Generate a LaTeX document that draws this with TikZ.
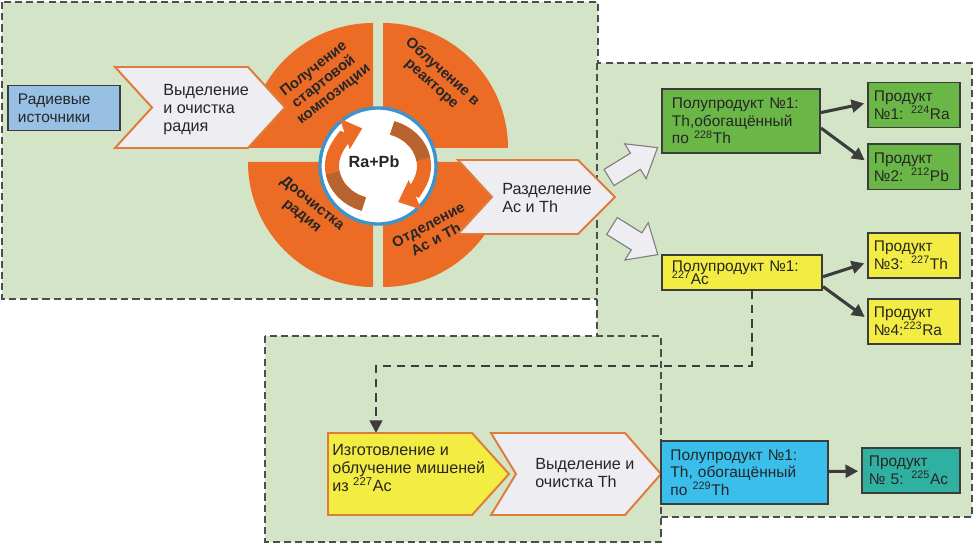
\documentclass[tikz,border=0pt]{standalone}
\usepackage{fontspec}
\setmainfont{Liberation Sans}
\usetikzlibrary{arrows.meta,positioning}
\definecolor{zoneGreen}{RGB}{212,229,199}
\definecolor{frameGray}{RGB}{77,77,77}
\definecolor{segOrange}{RGB}{236,108,38}
\definecolor{segBrown}{RGB}{184,100,48}
\definecolor{chevEdge}{RGB}{222,124,60}
\definecolor{chevFill}{RGB}{237,237,242}
\definecolor{srcBlue}{RGB}{152,192,228}
\definecolor{prodGreen}{RGB}{106,182,70}
\definecolor{prodYellow}{RGB}{243,236,66}
\definecolor{prodCyan}{RGB}{58,190,235}
\definecolor{prodTeal}{RGB}{48,176,160}
\definecolor{ringBlue}{RGB}{60,148,205}
\definecolor{inkGray}{RGB}{38,38,38}
\definecolor{boxEdge}{RGB}{60,60,60}
\tikzset{
  zone/.style={fill=zoneGreen, draw=frameGray, line width=1.6pt,
               dash pattern=on 5pt off 3pt},
  chev/.style={fill=#1, draw=chevEdge, line width=1.4pt, line join=miter},
  seg/.style={fill=segOrange},
  segtext/.style={font=\fontsize{10.5}{11.5}\selectfont\bfseries, text=inkGray,
                  align=center, inner sep=0pt},
  chevtext/.style={font=\fontsize{11.5}{12.8}\selectfont, text=inkGray,
                   align=left, anchor=west, inner sep=0pt},
  prod/.style={rectangle, draw=boxEdge, fill=#1, line width=1.4pt,
               align=left, inner sep=0pt, text=inkGray,
               font=\fontsize{11}{12.5}\selectfont},
  link/.style={-{Triangle[length=9pt,width=9pt]}, draw=boxEdge,
               line width=2.2pt, shorten >=2pt},
  blockarr/.style={fill=chevFill, draw=gray, line width=0.8pt},
  cyc/.style={line width=10pt, draw=#1},
  flow/.style={draw=boxEdge, line width=1.8pt, dash pattern=on 6pt off 4pt,
               -{Triangle[length=9pt,width=9pt]}},
}
\begin{document}
\begin{tikzpicture}[x=0.025cm, y=-0.025cm]
  \useasboundingbox (0,0) rectangle (976,545);

  % zones
  \path[zone] (2,2) rectangle (598,299);
  \path[zone] (597,63) rectangle (972,517);
  \path[zone] (265,336) rectangle (661,542);

  % cycle of four segments
  \fill[seg] (373,148) -- ++(-125,0) arc[start angle=180, end angle=270, radius=125] -- cycle;
  \fill[seg] (383,148) -- ++(125,0) arc[start angle=0, end angle=-90, radius=125] -- cycle;
  \fill[seg] (373,162) -- ++(0,125) arc[start angle=90, end angle=180, radius=125] -- cycle;
  \fill[seg] (383,162) -- ++(125,0) arc[start angle=0, end angle=90, radius=125] -- cycle;

  \coordinate (hub) at (378,166);
  \node[circle, draw=ringBlue, fill=white, line width=2.4pt,
        minimum size=2.9cm, inner sep=0pt] (ring) at (hub) {};
  \draw[cyc=segOrange, -{Triangle[width=22pt,length=13pt]}]
        ([shift={(-252:46 and 40)}]hub) arc[start angle=-252, end angle=-110, x radius=46, y radius=40];
  \draw[cyc=segBrown] ([shift={(-252:46 and 40)}]hub) arc[start angle=-252, end angle=-190, x radius=46, y radius=40];
  \draw[cyc=segOrange, -{Triangle[width=22pt,length=13pt]}]
        ([shift={(-72:46 and 40)}]hub) arc[start angle=-72, end angle=64, x radius=46, y radius=40];
  \draw[cyc=segBrown] ([shift={(-72:46 and 40)}]hub) arc[start angle=-72, end angle=-10, x radius=46, y radius=40];
  \node[font=\fontsize{11.5}{12}\selectfont\bfseries, text=inkGray] (mix) at (374,162) {Ra+Pb};

  \node[segtext, rotate=38] (start) at (324,82) {Получение\\стартовой\\композиции};
  \node[segtext, rotate=-42] (irrad) at (437,78) {Облучение в\\реакторе};
  \node[segtext, rotate=-39] (purify) at (307,210) {Доочистка\\радия};
  \node[segtext, rotate=28] (sepAcTh) at (432,232) {Отделение\\Ac и Th};

  % chevrons
  \path[chev=chevFill] (115,67) -- (248,67) -- (285,107.5) -- (248,148) -- (115,148) -- (152,107.5) -- cycle;
  \path[chev=chevFill] (458,160) -- (578,160) -- (615,197) -- (578,234) -- (458,234) -- (492,197) -- cycle;
  \path[chev=prodYellow] (328,433) -- (472,433) -- (509,474) -- (472,515) -- (328,515) -- cycle;
  \path[chev=chevFill] (491,433) -- (625,433) -- (661,474) -- (625,515) -- (491,515) -- (516,474) -- cycle;

  \node[chevtext] (selRa) at (163,110) {Выделение\\и очистка\\радия};
  \node[chevtext] (split) at (502,198) {Разделение\\Ac и Th};
  \node[chevtext] (target) at (332,468) {Изготовление и\\облучение мишеней\\из \textsuperscript{227}Ac};
  \node[chevtext] (selTh) at (535,473) {Выделение и\\очистка Th};

  % boxes
  \node[prod=srcBlue, minimum width=2.8cm, minimum height=1.125cm, text width=2.3cm]
        (src) at (64,108) {Радиевые\\источники};
  \node[prod=prodGreen, minimum width=3.95cm, minimum height=1.6cm, text width=3.45cm]
        (semiTh) at (741,121) {Полупродукт №1:\\Th,обогащённый\\по \textsuperscript{228}Th};
  \node[prod=prodGreen, minimum width=2.3cm, minimum height=1.125cm, text width=2.0cm]
        (prodRa) at (914,105) {Продукт\\№1: \textsuperscript{224}Ra};
  \node[prod=prodGreen, minimum width=2.3cm, minimum height=1.125cm, text width=2.0cm,
        below=0.375cm of prodRa] (prodPb) {Продукт\\№2: \textsuperscript{212}Pb};
  \node[prod=prodYellow, minimum width=4.0cm, minimum height=0.875cm, text width=3.5cm]
        (semiAc) at (742,272.5) {Полупродукт №1:\\[-3pt]\textsuperscript{227}Ac};
  \node[prod=prodYellow, minimum width=2.3cm, minimum height=1.125cm, text width=2.0cm]
        (prodTh) at (914,255.5) {Продукт\\№3: \textsuperscript{227}Th};
  \node[prod=prodYellow, minimum width=2.3cm, minimum height=1.125cm, text width=2.0cm,
        below=0.475cm of prodTh] (prodRaB) {Продукт\\№4:\textsuperscript{223}Ra};
  \node[prod=prodCyan, minimum width=4.175cm, minimum height=1.575cm, text width=3.7cm]
        (semiThB) at (744.5,472.5) {Полупродукт №1:\\Th, обогащённый\\по \textsuperscript{229}Th};
  \node[prod=prodTeal, minimum width=2.45cm, minimum height=1.125cm, text width=2.1cm]
        (prodAc) at (911,470.5) {Продукт\\№ 5: \textsuperscript{225}Ac};

  % block arrows out of the separation step
  \coordinate (splitUp) at (609,177.5);
  \coordinate (splitDn) at (612,226);
  \begin{scope}[shift={(splitUp)}, rotate=31.6]
    \path[blockarr] (0,-9.5) -- (31,-9.5) -- (31,-20.5) -- (57,0) -- (31,20.5) -- (31,9.5) -- (0,9.5) -- cycle;
  \end{scope}
  \begin{scope}[shift={(splitDn)}, rotate=-32]
    \path[blockarr] (0,-10) -- (29,-10) -- (29,-22) -- (54,0) -- (29,22) -- (29,10) -- (0,10) -- cycle;
  \end{scope}

  % product links
  \draw[link] ([yshift=6pt]semiTh.east) -- ([yshift=1.5pt]prodRa.west);
  \draw[link] ([yshift=-5pt]semiTh.east) -- ([yshift=3.5pt]prodPb.west);
  \draw[link] ([yshift=-3pt]semiAc.east) -- ([yshift=-5pt]prodTh.west);
  \draw[link] ([yshift=-10pt]semiAc.east) -- ([yshift=2pt]prodRaB.west);
  \draw[link] (semiThB) -- (prodAc);

  % actinium route to targets
  \coordinate (bend) at (752,366);
  \coordinate (drop) at (376,433);
  \draw[flow] (semiAc.south -| bend) -- (bend) -| (drop);
\end{tikzpicture}
\end{document}
